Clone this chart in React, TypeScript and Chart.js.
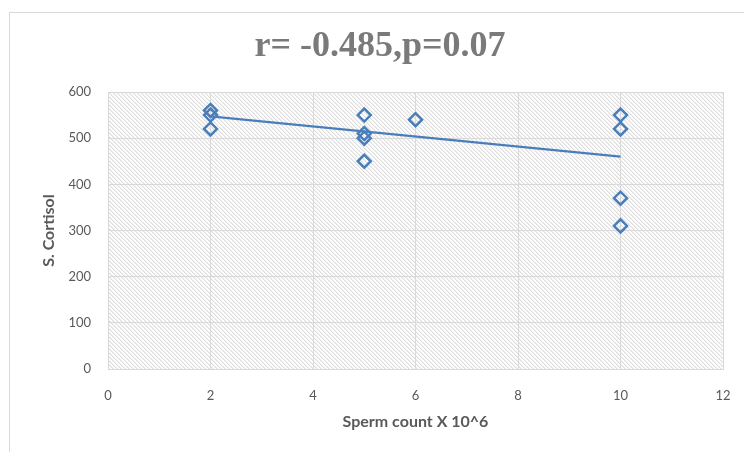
import React, { useEffect, useRef } from "react";
import { Chart, registerables } from "chart.js";

Chart.register(...registerables);

const spermCount = [2, 2, 2, 5, 5, 5, 5, 6, 10, 10, 10, 10];
const cortisol = [560, 550, 520, 550, 510, 500, 450, 540, 550, 520, 370, 310];
const trendX = [2, 10];
const trendY = [547, 460];
const xTicks = [0, 2, 4, 6, 8, 10, 12];
const yTicks = [0, 100, 200, 300, 400, 500, 600];
const titleText = "r= -0.485,p=0.07";
const xTitle = "Sperm count X 10^6";
const yTitle = "S. Cortisol";

const BLUE = "#4a7ebb";
const GRID = "#d9d9d9";
const TICK = "#595959";

function makePattern(ctx: CanvasRenderingContext2D) {
  const c = document.createElement("canvas");
  c.width = 8;
  c.height = 8;
  const p = c.getContext("2d")!;
  p.fillStyle = "#ffffff";
  p.fillRect(0, 0, 8, 8);
  for (let y = 0; y < 8; y++) {
    for (let k = 0; k < 2; k++) {
      const x = (y + k * 4) % 8;
      p.fillStyle = "#dedede";
      p.fillRect(x, y, 1, 1);
      p.fillStyle = "#efefef";
      p.fillRect((x + 1) % 8, y, 1, 1);
    }
  }
  return ctx.createPattern(c, "repeat");
}

const hatchPlugin = {
  id: "hatch",
  beforeDraw(chart: any) {
    const { ctx, chartArea } = chart;
    ctx.save();
    ctx.fillStyle = "#ffffff";
    ctx.fillRect(0, 0, chart.width, chart.height);
    const pat = makePattern(ctx);
    if (pat) {
      ctx.fillStyle = pat;
      ctx.fillRect(chartArea.left, chartArea.top, chartArea.right - chartArea.left, chartArea.bottom - chartArea.top);
    }
    ctx.fillStyle = "#7a7a7a";
    ctx.font = "bold 36px 'Liberation Serif', serif";
    ctx.textAlign = "center";
    ctx.textBaseline = "middle";
    ctx.fillText(titleText, 380, 47);
    ctx.restore();
  },
};

export default function App() {
  const ref = useRef<HTMLCanvasElement>(null);
  useEffect(() => {
    if (!ref.current) return;
    const chart = new Chart(ref.current, {
      type: "scatter",
      data: {
        datasets: [
          {
            label: "S. Cortisol",
            data: spermCount.map((x, i) => ({ x, y: cortisol[i] })),
            pointStyle: "rectRot",
            pointRadius: 6.5,
            pointBorderWidth: 2.5,
            pointBorderColor: BLUE,
            pointBackgroundColor: "rgba(0,0,0,0)",
            borderColor: BLUE,
            backgroundColor: "rgba(0,0,0,0)",
            order: 1,
          },
          {
            type: "line",
            label: "Trend",
            data: trendX.map((x, i) => ({ x, y: trendY[i] })),
            borderColor: BLUE,
            borderWidth: 2.2,
            pointRadius: 0,
            fill: false,
            order: 2,
          } as any,
        ],
      },
      options: {
        animation: false,
        responsive: false,
        maintainAspectRatio: false,
        layout: { padding: { left: 36, right: 21, top: 92, bottom: 0 } },
        plugins: {
          legend: { display: false },
          title: { display: false },
          tooltip: { enabled: false },
        },
        scales: {
          x: {
            type: "linear",
            min: 0,
            max: 12,
            afterBuildTicks: (s: any) => {
              s.ticks = xTicks.map((v) => ({ value: v }));
            },
            afterFit: (s: any) => {
              s.height = 83;
              s.paddingRight = 0;
              s.paddingLeft = 0;
            },
            grid: { color: GRID, lineWidth: 1, drawTicks: false },
            border: { color: GRID },
            ticks: {
              color: TICK,
              font: { family: "Lato", size: 13 },
              padding: 19,
            },
            title: {
              display: true,
              text: xTitle,
              color: TICK,
              font: { family: "Lato", size: 16, weight: "bold" },
              padding: { top: 0, bottom: 21 },
            },
          },
          y: {
            type: "linear",
            min: 0,
            max: 600,
            afterBuildTicks: (s: any) => {
              s.ticks = yTicks.map((v) => ({ value: v }));
            },
            afterFit: (s: any) => {
              s.width = 72;
              s.paddingTop = 0;
              s.paddingBottom = 0;
            },
            grid: { color: GRID, lineWidth: 1, drawTicks: false },
            border: { color: GRID },
            ticks: {
              color: TICK,
              font: { family: "Lato", size: 13 },
              padding: 17,
            },
            title: {
              display: true,
              text: yTitle,
              color: TICK,
              font: { family: "Lato", size: 16, weight: "bold" },
              padding: { top: 3, bottom: 0 },
            },
          },
        },
      },
      plugins: [hatchPlugin],
    });
    return () => chart.destroy();
  }, []);

  return (
    <div style={{ position: "fixed", left: 0, top: 0, width: 744, height: 452, overflow: "hidden", background: "#fff" }}>
      <canvas ref={ref} width={744} height={452} style={{ position: "absolute", left: 0, top: 0, width: 744, height: 452 }} />
      <div
        style={{
          position: "absolute",
          left: 9,
          top: 12,
          width: 800,
          height: 500,
          borderLeft: "1px solid #d9d9d9",
          borderTop: "1px solid #d9d9d9",
          pointerEvents: "none",
        }}
      />
    </div>
  );
}
